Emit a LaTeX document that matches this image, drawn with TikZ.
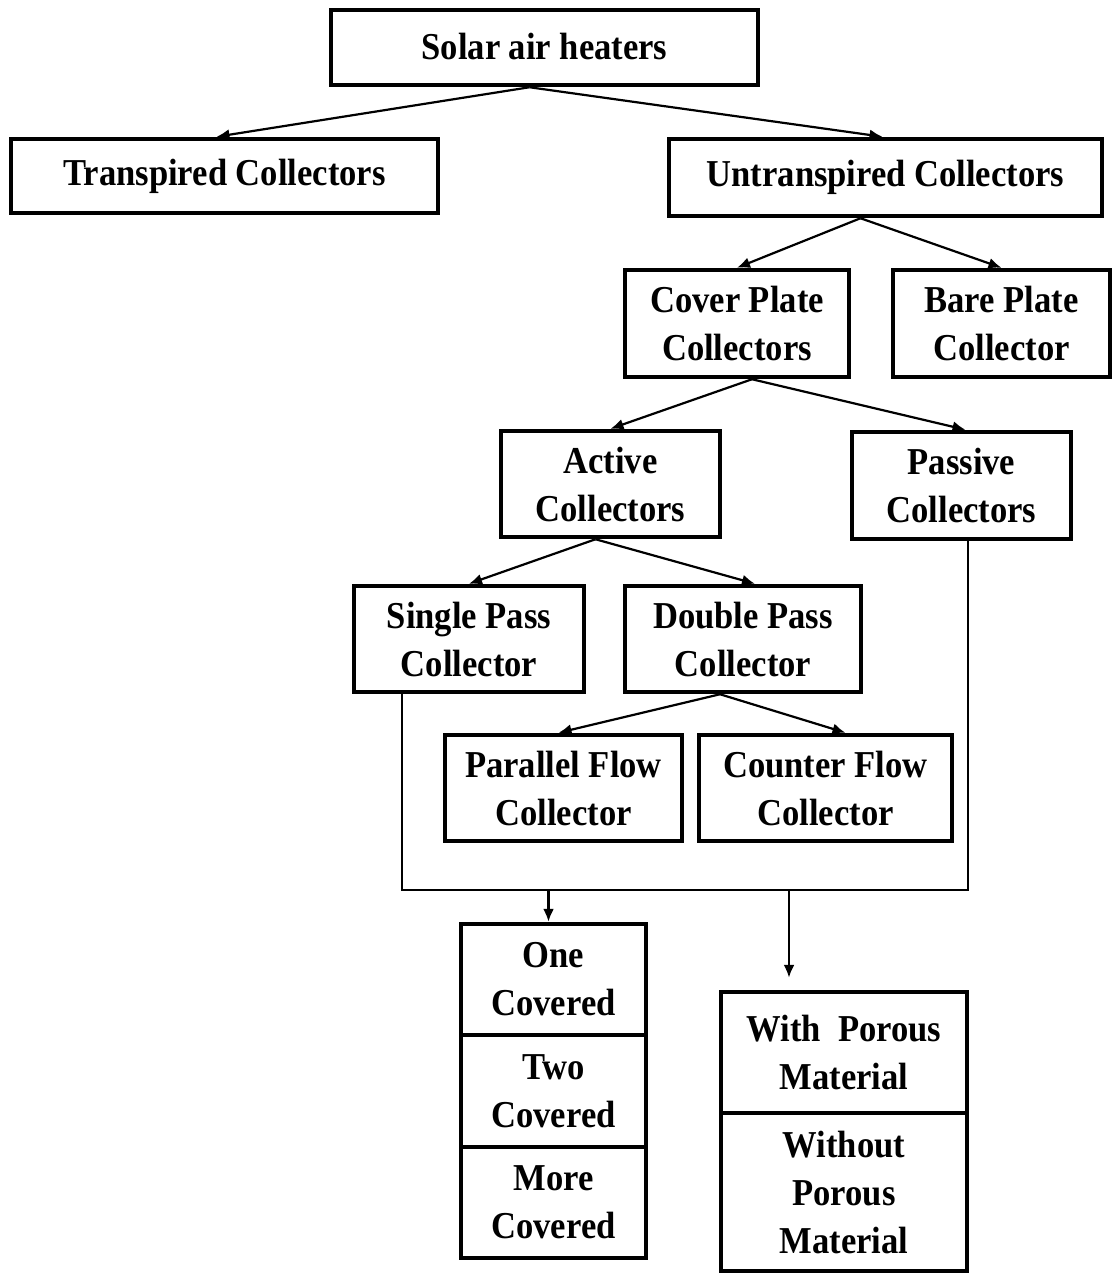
\documentclass[tikz,border=0pt]{standalone}
\usepackage{fontspec}
\newfontfamily\labfont{Liberation Serif}[FakeStretch=0.91]
\usetikzlibrary{arrows.meta,calc}
\begin{document}
\begin{tikzpicture}[x=1pt,y=-1pt,
  box/.style={draw, line width=4.5pt, align=center, inner sep=0pt,
    font=\labfont\bfseries\fontsize{38}{48}\selectfont},
  conn/.style={line width=2.2pt, -{Latex[length=13pt,width=11pt]}},
  plain/.style={line width=2.2pt}]
\useasboundingbox (0,0) rectangle (1114,1273);
\node[box, minimum width=427, minimum height=75] (solar) at (544.5,47.5) {\raisebox{3pt}{Solar air heaters}};
\node[box, minimum width=427, minimum height=74] (trans) at (224.5,176) {\raisebox{3pt}{Transpired Collectors}};
\node[box, minimum width=433, minimum height=77] (untrans) at (885.5,177.5) {\raisebox{3pt}{Untranspired Collectors}};
\node[box, minimum width=224, minimum height=107] (cover) at (737,323.5) {Cover Plate\\Collectors};
\node[box, minimum width=217, minimum height=107] (bare) at (1001.5,323.5) {Bare Plate\\Collector};
\node[box, minimum width=219, minimum height=106] (active) at (610.5,484) {Active\\Collectors};
\node[box, minimum width=219, minimum height=107] (passive) at (961.5,485.5) {Passive\\Collectors};
\node[box, minimum width=230, minimum height=106] (single) at (469,639) {Single Pass\\Collector};
\node[box, minimum width=236, minimum height=106] (double) at (743,639) {Double Pass\\Collector};
\node[box, minimum width=237, minimum height=106] (parallel) at (563.5,788) {Parallel Flow\\Collector};
\node[box, minimum width=253, minimum height=106] (counter) at (825.5,788) {Counter Flow\\Collector};
\node[box, minimum width=185, minimum height=111] (one) at (553.5,979.5) {One\\Covered};
\node[box, minimum width=185, minimum height=112] (two) at (553.5,1091) {Two\\Covered};
\node[box, minimum width=185, minimum height=111] (more) at (553.5,1202.5) {More\\Covered};
\node[box, minimum width=246, minimum height=121] (with) at (844,1052.5) {With\ \ Porous\\Material};
\node[box, minimum width=246, minimum height=158] (without) at (844,1192) {Without\\Porous\\Material};
\coordinate (jl) at (402,890);
\coordinate (jr) at (968,890);
\coordinate (jw) at (789,890);
% arrows
\draw[conn] ($(solar.south)+(-15,0)$) -- ($(trans.north)+(-8,0)$);
\draw[conn] ($(solar.south)+(-15,0)$) -- ($(untrans.north)+(-3,0)$);
\draw[conn] ($(untrans.south)+(-25,0)$) -- (cover.north);
\draw[conn] ($(untrans.south)+(-25,0)$) -- (bare.north);
\draw[conn] ($(cover.south)+(15,0)$) -- (active.north);
\draw[conn] ($(cover.south)+(15,0)$) -- ($(passive.north)+(4,0)$);
\draw[conn] ($(active.south)+(-15,0)$) -- (single.north);
\draw[conn] ($(active.south)+(-15,0)$) -- ($(double.north)+(12,0)$);
\draw[conn] ($(double.south)+(-23,0)$) -- ($(parallel.north)+(-5,0)$);
\draw[conn] ($(double.south)+(-23,0)$) -- ($(counter.north)+(20,0)$);
\draw[plain] (single.south -| jl) -- (jl) -- (jr) -- (passive.south -| jr);
\draw[conn] (jl -| one.north) ++(-5,0) -- ($(one.north)+(-5,0)$);
\draw[conn] (jw) -- (jw |- {$(with.north)+(0,-12)$});
\end{tikzpicture}
\end{document}
